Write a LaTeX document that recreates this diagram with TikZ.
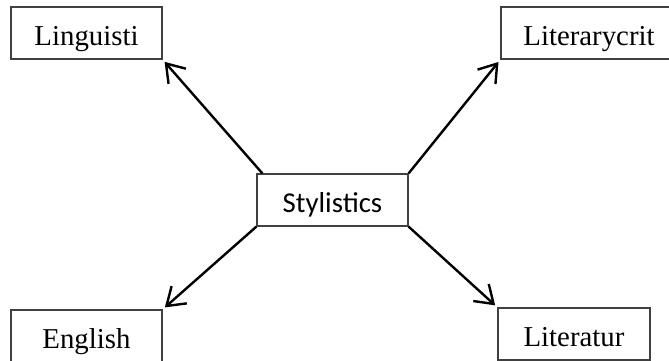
\documentclass[tikz,border=0pt]{standalone}
\usepackage{fontspec}
\setmainfont{Liberation Serif}
\newfontfamily\calib{Carlito}
\usetikzlibrary{arrows.meta}
\begin{document}
\begin{tikzpicture}[x=0.5pt,y=-0.5pt,
  box/.style={draw=black!75,line width=0.6pt,inner sep=0pt,
    text height=14.5pt,text depth=2.5pt,font=\fontsize{14.4}{17}\selectfont},
  conn/.style={line width=1.2pt,-{Straight Barb[length=8.5pt,width=11.5pt,line width=1.2pt]},
    shorten >=1.5pt}]
\useasboundingbox (0,0) rectangle (669,360);
\node[box,minimum width=151pt*0.5,minimum height=52pt*0.5] (ling) at (86.5,33) {Linguisti};
\node[box,minimum width=176pt*0.5,minimum height=52pt*0.5] (crit) at (589,33) {Literarycrit};
\node[box,minimum width=151pt*0.5,minimum height=52pt*0.5,font=\calib\fontsize{14.4}{17}\selectfont] (sty) at (332.5,200) {Stylistics};
\node[box,minimum width=151pt*0.5,minimum height=52pt*0.5] (eng) at (86.5,336) {English};
\node[box,minimum width=152pt*0.5,minimum height=52pt*0.5] (lit) at (574,334) {Literatur};
\coordinate (a1) at ([xshift=3pt]sty.north west);
\coordinate (a2) at ([xshift=-0pt]sty.north east);
\coordinate (a3) at ([xshift=0pt]sty.south west);
\coordinate (a4) at ([xshift=0pt]sty.south east);
\draw[conn] (a1) -- (ling.south east);
\draw[conn] (a2) -- (crit.south west);
\draw[conn] (a3) -- (eng.north east);
\draw[conn] (a4) -- (lit.north west);
\end{tikzpicture}
\end{document}
